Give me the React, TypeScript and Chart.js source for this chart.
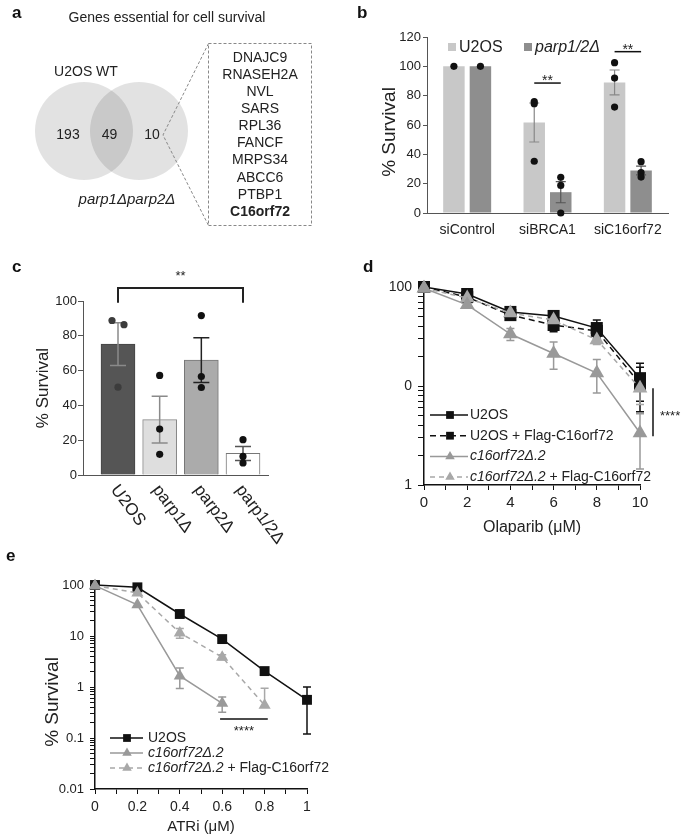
import React, { useEffect, useRef } from "react";
import { Chart, registerables } from "chart.js";

Chart.register(...registerables);

const FONT = "'Liberation Sans', Arial, Helvetica, sans-serif";
const TEXT = "#222";
Chart.defaults.font.family = FONT;
Chart.defaults.color = TEXT;

// ---------- Panel a : Venn ----------
const vennTitle = "Genes essential for cell survival";
const vennSets = ["U2OS WT", "parp1Δparp2Δ"];
const vennCounts = [193, 49, 10];
const vennGenes = ["DNAJC9", "RNASEH2A", "NVL", "SARS", "RPL36", "FANCF", "MRPS34", "ABCC6", "PTBP1", "C16orf72"];

// ---------- Panel b ----------
const bCategories = ["siControl", "siBRCA1", "siC16orf72"];
const bSeriesNames = ["U2OS", "parp1/2Δ"];
const bU2OS = [100, 61.7, 89];
const bU2OSErr = [0, 13.3, 8.5];
const bParp = [100, 14.2, 29];
const bParpErr = [0, 7.2, 3];
const bU2OSDots = [[100], [76, 74.5, 35.3], [102.5, 92, 72.2]];
const bParpDots = [[100], [24.3, 18.8, 0], [35, 27.5, 24.5]];
const bSignifLevel = [null, 88.6, 110];
const bSignifText = ["", "**", "**"];

// ---------- Panel c ----------
const cCategories = ["U2OS", "parp1Δ", "parp2Δ", "parp1/2Δ"];
const cMeans = [75.2, 31.8, 66, 12.4];
const cErr = [12.3, 13.4, 12.9, 4];
const cDots = [[88.8, 86.4, 50.5], [57.2, 26.4, 11.9], [91.6, 56.6, 50.3], [20.3, 10.7, 6.9]];
const cSignifPair = [0, 3];
const cSignifLevel = 107.5;
const cSignifText = "**";

// ---------- Panel d ----------
const dDoses = [0, 2, 4, 6, 8, 10];
const dSeriesNames = ["U2OS", "U2OS + Flag-C16orf72", "c16orf72Δ.2", "c16orf72Δ.2 + Flag-C16orf72"];
const dU2OS = [100, 85, 56, 51, 38.5, 12];
const dU2OSErr = [0, 3, 3, 3, 8, 5];
const dU2OSFlag = [100, 79, 52, 41.3, 36, 10.5];
const dU2OSFlagErr = [0, 3, 3, 6, 4, 5];
const dC16 = [97, 66, 33.5, 21.3, 13.5, 3.35];
const dC16Err = [0, 3, 4.7, 6.5, 5, 1.9];
const dC16Flag = [97, 77.5, 54.5, 46.4, 29.2, 9.5];
const dC16FlagErr = [0, 3, 3, 3, 3, 3];
const dYTicks = [1, 10, 100];
const dYTickLabels = ["1", "0", "100"];
const dSignifRange = [9.5, 3.1];
const dSignifText = "****";

// ---------- Panel e ----------
const eDoses = [0, 0.2, 0.4, 0.6, 0.8, 1];
const eSeriesNames = ["U2OS", "c16orf72Δ.2", "c16orf72Δ.2 + Flag-C16orf72"];
const eU2OS = [100, 90, 27, 8.7, 2.05, 0.56];
const eU2OSErr = [0, 0, 0, 0, 0, 0.44];
const eC16 = [97, 41, 1.65, 0.48];
const eC16Err = [0, 0, 0.72, 0.16];
const eC16Flag = [97, 70, 11.5, 3.85, 0.44];
const eC16FlagErr = [0, 0, 2.5, 0.42, 0.5];
const eYTicks = [0.01, 0.1, 1, 10, 100];
const eYTickLabels = ["0.01", "0.1", "1", "10", "100"];
const eSignifRange = [0.59, 0.815];
const eSignifLevel = 0.235;
const eSignifText = "****";

// ---------- helpers ----------
function logTicks(lo: number, hi: number) {
  const out: number[] = [];
  for (let e = lo; e < hi; e++) for (let m = 1; m < 10; m++) out.push(Number((m * Math.pow(10, e)).toPrecision(3)));
  out.push(Math.pow(10, hi));
  return out;
}
function labelFor(ticks: number[], labels: string[], v: number) {
  const i = ticks.findIndex((t) => Math.abs(t - v) < t * 1e-6);
  return i >= 0 ? labels[i] : "";
}
function drawMarker(ctx: any, style: string, x: number, y: number, r: number, color: string) {
  ctx.save();
  ctx.fillStyle = color;
  ctx.setLineDash([]);
  ctx.beginPath();
  if (style === "rect") {
    const s = r * Math.SQRT1_2;
    ctx.rect(x - s, y - s, 2 * s, 2 * s);
  } else {
    for (let k = 0; k < 3; k++) {
      const a = -Math.PI / 2 + (k * 2 * Math.PI) / 3;
      const px = x + Math.cos(a) * r;
      const py = y + Math.sin(a) * r;
      if (k === 0) ctx.moveTo(px, py);
      else ctx.lineTo(px, py);
    }
    ctx.closePath();
  }
  ctx.fill();
  ctx.restore();
}
function drawSeriesLabel(ctx: any, label: string, x: number, y: number, size: number) {
  const parts = label.split(" + ");
  let cx = x;
  parts.forEach((p, i) => {
    const italic = p.startsWith("c16orf72");
    if (i > 0) {
      ctx.font = `${size}px ${FONT}`;
      ctx.fillText(" + ", cx, y);
      cx += ctx.measureText(" + ").width;
    }
    ctx.font = `${italic ? "italic " : ""}${size}px ${FONT}`;
    ctx.fillText(p, cx, y);
    cx += ctx.measureText(p).width;
  });
}
function yTitlePlugin(text: string, x: number, y: number, size: number) {
  return {
    id: "yTitle",
    afterDraw(chart: any) {
      const { ctx } = chart;
      ctx.save();
      ctx.translate(x, y);
      ctx.rotate(-Math.PI / 2);
      ctx.fillStyle = TEXT;
      ctx.font = `${size}px ${FONT}`;
      ctx.textAlign = "center";
      ctx.textBaseline = "middle";
      ctx.fillText(text, 0, 0);
      ctx.restore();
    },
  };
}
function lineErrPlugin(errs: number[][], cap: number) {
  return {
    id: "lineErr",
    beforeDatasetsDraw(chart: any) {
      const { ctx } = chart;
      const ys = chart.scales.y;
      ctx.save();
      chart.data.datasets.forEach((ds: any, di: number) => {
        const meta = chart.getDatasetMeta(di);
        ctx.strokeStyle = ds.borderColor;
        ctx.lineWidth = 1.5;
        ctx.setLineDash([]);
        meta.data.forEach((pt: any, j: number) => {
          const e = errs[di][j];
          if (!e) return;
          const v = ds.data[j].y;
          const yTop = ys.getPixelForValue(v + e);
          const yBot = v - e > 0 ? ys.getPixelForValue(v - e) : null;
          ctx.beginPath();
          ctx.moveTo(pt.x, yTop);
          ctx.lineTo(pt.x, yBot === null ? pt.y : yBot);
          ctx.moveTo(pt.x - cap, yTop);
          ctx.lineTo(pt.x + cap, yTop);
          if (yBot !== null) {
            ctx.moveTo(pt.x - cap, yBot);
            ctx.lineTo(pt.x + cap, yBot);
          }
          ctx.stroke();
        });
      });
      ctx.restore();
    },
  };
}
function lineLegendPlugin(names: string[], rowOffsets: number[], lineFrom: number, lineTo: number, markX: number, textX: number, markR: number, size: number) {
  return {
    id: "lineLegend",
    afterDraw(chart: any) {
      const { ctx, chartArea: ca } = chart;
      ctx.save();
      names.forEach((name, i) => {
        const ds = chart.data.datasets[i];
        const y = ca.bottom - rowOffsets[i];
        ctx.strokeStyle = ds.borderColor;
        ctx.lineWidth = 1.5;
        ctx.setLineDash(ds.borderDash || []);
        ctx.beginPath();
        ctx.moveTo(ca.left + lineFrom, y);
        ctx.lineTo(ca.left + lineTo, y);
        ctx.stroke();
        drawMarker(ctx, ds.pointStyle, ca.left + markX, y, markR, ds.backgroundColor);
        ctx.fillStyle = TEXT;
        ctx.textAlign = "left";
        ctx.textBaseline = "middle";
        drawSeriesLabel(ctx, name, ca.left + textX, y, size);
      });
      ctx.restore();
    },
  };
}

// ---------- configs ----------
const VENN_R = 49;
function makeVenn() {
  return {
    type: "bubble",
    data: {
      datasets: [
        {
          data: vennSets.map((_, i) => ({ x: i, y: 0, r: VENN_R })),
          backgroundColor: "rgba(0,0,0,0.115)",
          borderWidth: 0,
          hoverRadius: 0,
        },
      ],
    },
    options: {
      responsive: false,
      animation: false,
      events: [],
      layout: { padding: 0, autoPadding: false },
      plugins: { legend: { display: false }, tooltip: { enabled: false } },
      scales: {
        x: { display: false, min: -1.527, max: 4.655 },
        y: { display: false, min: -1.09, max: 1.31 },
      },
    },
    plugins: [
      {
        id: "vennText",
        afterDraw(chart: any) {
          const { ctx } = chart;
          const xs = chart.scales.x;
          const ys = chart.scales.y;
          const cx0 = xs.getPixelForValue(0);
          const cx1 = xs.getPixelForValue(1);
          const cy = ys.getPixelForValue(0);
          ctx.save();
          ctx.fillStyle = TEXT;
          ctx.textAlign = "center";
          ctx.textBaseline = "middle";
          ctx.font = `14px ${FONT}`;
          ctx.fillText(vennTitle, 167, 18);
          ctx.fillText(vennSets[0], cx0 + 2, cy - 59);
          ctx.font = `italic 15px ${FONT}`;
          ctx.fillText(vennSets[1], cx1 - 12, cy + 69);
          ctx.font = `14px ${FONT}`;
          ctx.fillText(String(vennCounts[0]), cx0 - 16, cy + 4);
          ctx.fillText(String(vennCounts[1]), (cx0 + cx1) / 2 - 2, cy + 4);
          ctx.fillText(String(vennCounts[2]), cx1 + 13, cy + 4);
          ctx.strokeStyle = "#888";
          ctx.lineWidth = 1;
          ctx.setLineDash([3, 2]);
          ctx.strokeRect(208.5, 43.5, 103, 182);
          ctx.beginPath();
          ctx.moveTo(208.5, 43.5);
          ctx.lineTo(cx1 + 24, cy + 4);
          ctx.lineTo(208.5, 225.5);
          ctx.stroke();
          ctx.setLineDash([]);
          vennGenes.forEach((g, i) => {
            ctx.font = `${i === vennGenes.length - 1 ? "bold " : ""}14px ${FONT}`;
            ctx.fillText(g, 260, 58 + i * 17.1);
          });
          ctx.restore();
        },
      },
    ],
  };
}

function makeB() {
  const dotSets = [bU2OSDots, bParpDots];
  const errSets = [bU2OSErr, bParpErr];
  const errColors = ["#888", "#555"];
  return {
    type: "bar",
    data: {
      labels: bCategories,
      datasets: [
        { label: bSeriesNames[0], data: bU2OS, backgroundColor: "#c8c8c8", categoryPercentage: 0.66, barPercentage: 0.81 },
        { label: bSeriesNames[1], data: bParp, backgroundColor: "#8e8e8e", categoryPercentage: 0.66, barPercentage: 0.81 },
      ],
    },
    options: {
      responsive: false,
      animation: false,
      events: [],
      layout: { padding: { left: 0, right: 17, top: 37, bottom: 0 } },
      plugins: { legend: { display: false }, tooltip: { enabled: false } },
      scales: {
        x: {
          grid: { display: false, drawTicks: false },
          border: { display: true, color: "#555", width: 1 },
          ticks: { font: { size: 14 }, color: TEXT, padding: 9, maxRotation: 0, autoSkip: false },
          afterFit: (s: any) => { s.height = 27; },
        },
        y: {
          min: 0,
          max: 120,
          ticks: { stepSize: 20, font: { size: 13 }, color: TEXT, padding: 2 },
          grid: { display: true, drawOnChartArea: false, drawTicks: true, tickLength: 4, color: "#555" },
          border: { display: true, color: "#555", width: 1 },
          afterFit: (s: any) => { s.width = 87; },
        },
      },
    },
    plugins: [
      yTitlePlugin("% Survival", 50, 132, 19),
      {
        id: "bExtras",
        afterDatasetsDraw(chart: any) {
          const { ctx, chartArea: ca } = chart;
          const ys = chart.scales.y;
          ctx.save();
          [0, 1].forEach((di) => {
            const meta = chart.getDatasetMeta(di);
            meta.data.forEach((el: any, j: number) => {
              const mean = chart.data.datasets[di].data[j];
              const e = errSets[di][j];
              if (e > 0) {
                const t = ys.getPixelForValue(mean + e);
                const b = ys.getPixelForValue(mean - e);
                ctx.strokeStyle = errColors[di];
                ctx.lineWidth = 1.2;
                ctx.beginPath();
                ctx.moveTo(el.x, t); ctx.lineTo(el.x, b);
                ctx.moveTo(el.x - 5, t); ctx.lineTo(el.x + 5, t);
                ctx.moveTo(el.x - 5, b); ctx.lineTo(el.x + 5, b);
                ctx.stroke();
              }
              ctx.fillStyle = "#111";
              dotSets[di][j].forEach((v) => {
                ctx.beginPath();
                ctx.arc(el.x, ys.getPixelForValue(v), 3.6, 0, Math.PI * 2);
                ctx.fill();
              });
            });
          });
          // significance
          const m0 = chart.getDatasetMeta(0);
          const m1 = chart.getDatasetMeta(1);
          bSignifLevel.forEach((lvl, j) => {
            if (lvl === null) return;
            const x1 = m0.data[j].x;
            const x2 = m1.data[j].x;
            const y = ys.getPixelForValue(lvl);
            ctx.strokeStyle = "#111";
            ctx.lineWidth = 1.5;
            ctx.beginPath();
            ctx.moveTo(x1, y); ctx.lineTo(x2, y);
            ctx.stroke();
            ctx.fillStyle = TEXT;
            ctx.font = `14px ${FONT}`;
            ctx.textAlign = "center";
            ctx.textBaseline = "middle";
            ctx.fillText(bSignifText[j], (x1 + x2) / 2, y - 2);
          });
          // legend
          const ly = ca.top + 10;
          const items = [
            { x: ca.left + 21, color: chart.data.datasets[0].backgroundColor, label: bSeriesNames[0], italic: false },
            { x: ca.left + 97, color: chart.data.datasets[1].backgroundColor, label: bSeriesNames[1], italic: true },
          ];
          items.forEach((it) => {
            ctx.fillStyle = it.color;
            ctx.fillRect(it.x, ly - 4, 8, 8);
            ctx.fillStyle = TEXT;
            ctx.font = `${it.italic ? "italic " : ""}16px ${FONT}`;
            ctx.textAlign = "left";
            ctx.textBaseline = "middle";
            ctx.fillText(it.label, it.x + 11, ly + 1);
          });
          ctx.restore();
        },
      },
    ],
  };
}

function makeC() {
  const fills = ["#555555", "#dedede", "#ababab", "#ffffff"];
  const borders = ["#444", "#888", "#777", "#777"];
  const errColors = ["#8a8a8a", "#8a8a8a", "#222", "#555"];
  const dotColors = ["#3c3c3c", "#111", "#111", "#111"];
  const jitter = [[-6, 6, 0], [0, 0, 0], [0, 0, 0], [0, 0, 0]];
  return {
    type: "bar",
    data: {
      datasets: [
        {
          data: cMeans.map((v, i) => ({ x: i, y: v })),
          backgroundColor: fills,
          borderColor: borders,
          borderWidth: 1,
          barThickness: 34,
        },
      ],
    },
    options: {
      responsive: false,
      animation: false,
      events: [],
      layout: { padding: { left: 0, right: 72, top: 61, bottom: 0 } },
      plugins: { legend: { display: false }, tooltip: { enabled: false } },
      scales: {
        x: {
          type: "linear",
          min: -0.84,
          max: 3.6,
          offset: false,
          grid: { display: false, drawTicks: false, offset: false },
          ticks: { display: false },
          border: { display: true, color: "#555", width: 1 },
          afterFit: (s: any) => { s.height = 95; },
        },
        y: {
          min: 0,
          max: 100,
          ticks: { stepSize: 20, font: { size: 13 }, color: TEXT, padding: 1 },
          grid: { display: true, drawOnChartArea: false, drawTicks: true, tickLength: 5, color: "#555" },
          border: { display: true, color: "#555", width: 1 },
          title: { display: true, text: "% Survival", font: { size: 17 }, color: TEXT, padding: { top: 33, bottom: 0 } },
          afterFit: (s: any) => { s.width = 83; },
        },
      },
    },
    plugins: [
      {
        id: "cExtras",
        afterDatasetsDraw(chart: any) {
          const { ctx, chartArea: ca } = chart;
          const ys = chart.scales.y;
          const xs = chart.scales.x;
          const meta = chart.getDatasetMeta(0);
          ctx.save();
          meta.data.forEach((el: any, j: number) => {
            const mean = cMeans[j];
            const t = ys.getPixelForValue(mean + cErr[j]);
            const b = ys.getPixelForValue(mean - cErr[j]);
            ctx.strokeStyle = errColors[j];
            ctx.lineWidth = 1.5;
            ctx.beginPath();
            ctx.moveTo(el.x, t); ctx.lineTo(el.x, b);
            ctx.moveTo(el.x - 8, t); ctx.lineTo(el.x + 8, t);
            ctx.moveTo(el.x - 8, b); ctx.lineTo(el.x + 8, b);
            ctx.stroke();
            ctx.fillStyle = dotColors[j];
            cDots[j].forEach((v, k) => {
              ctx.beginPath();
              ctx.arc(el.x + jitter[j][k], ys.getPixelForValue(v), 3.6, 0, Math.PI * 2);
              ctx.fill();
            });
          });
          // significance bracket
          const x1 = xs.getPixelForValue(cSignifPair[0]);
          const x2 = xs.getPixelForValue(cSignifPair[1]);
          const y = ys.getPixelForValue(cSignifLevel);
          const legY = ys.getPixelForValue(99);
          ctx.strokeStyle = "#222";
          ctx.lineWidth = 2;
          ctx.beginPath();
          ctx.moveTo(x1, legY); ctx.lineTo(x1, y); ctx.lineTo(x2, y); ctx.lineTo(x2, legY);
          ctx.stroke();
          ctx.fillStyle = TEXT;
          ctx.font = `13px ${FONT}`;
          ctx.textAlign = "center";
          ctx.textBaseline = "middle";
          ctx.fillText(cSignifText, (x1 + x2) / 2, y - 12);
          // rotated category labels
          ctx.font = `17px ${FONT}`;
          ctx.textAlign = "left";
          ctx.textBaseline = "middle";
          cCategories.forEach((lab, i) => {
            const x = xs.getPixelForValue(i);
            ctx.save();
            ctx.translate(x - 4, ca.bottom + 12);
            ctx.rotate((53 * Math.PI) / 180);
            ctx.fillText(lab, 0, 0);
            ctx.restore();
          });
          ctx.restore();
        },
      },
    ],
  };
}

function makeD() {
  const allTicks = logTicks(0, 2);
  return {
    type: "line",
    data: {
      datasets: [
        { label: dSeriesNames[0], data: dDoses.map((x, i) => ({ x, y: dU2OS[i] })), borderColor: "#111", backgroundColor: "#111", borderWidth: 1.5, pointStyle: "rect", pointRadius: 8.5, pointBorderWidth: 0, clip: false, order: 2 },
        { label: dSeriesNames[1], data: dDoses.map((x, i) => ({ x, y: dU2OSFlag[i] })), borderColor: "#111", backgroundColor: "#111", borderWidth: 1.5, borderDash: [6, 4], pointStyle: "rect", pointRadius: 8.5, pointBorderWidth: 0, clip: false, order: 3 },
        { label: dSeriesNames[2], data: dDoses.map((x, i) => ({ x, y: dC16[i] })), borderColor: "#999", backgroundColor: "#999", borderWidth: 1.5, pointStyle: "triangle", pointRadius: 8.5, pointBorderWidth: 0, clip: false, order: 0 },
        { label: dSeriesNames[3], data: dDoses.map((x, i) => ({ x, y: dC16Flag[i] })), borderColor: "#a8a8a8", backgroundColor: "#a8a8a8", borderWidth: 1.5, borderDash: [5, 4], pointStyle: "triangle", pointRadius: 8.5, pointBorderWidth: 0, clip: false, order: 1 },
      ],
    },
    options: {
      responsive: false,
      animation: false,
      events: [],
      layout: { padding: { left: 0, right: 45, top: 47, bottom: 0 } },
      plugins: { legend: { display: false }, tooltip: { enabled: false } },
      scales: {
        x: {
          type: "linear",
          min: 0,
          max: 10,
          ticks: { stepSize: 1, autoSkip: false, maxRotation: 0, font: { size: 15 }, color: TEXT, padding: 4, callback: (v: number) => (Math.round(v) % 2 === 0 ? String(Math.round(v)) : "") },
          grid: { display: true, drawOnChartArea: false, drawTicks: true, tickLength: 5, color: "#111" },
          border: { display: true, color: "#111", width: 1.5 },
          title: { display: true, text: "Olaparib (μM)", font: { size: 16 }, color: TEXT, padding: { top: 0, bottom: 33 } },
          afterFit: (s: any) => { s.height = 85; },
        },
        y: {
          type: "logarithmic",
          min: 1,
          max: 100,
          afterBuildTicks: (s: any) => { s.ticks = allTicks.map((v) => ({ value: v })); },
          ticks: { autoSkip: false, font: { size: 14 }, color: TEXT, padding: 6, callback: (v: number) => labelFor(dYTicks, dYTickLabels, v) },
          grid: { display: true, drawOnChartArea: false, drawTicks: true, tickLength: 6, color: "#111" },
          border: { display: true, color: "#111", width: 1.5 },
          afterFit: (s: any) => { s.width = 84; },
        },
      },
    },
    plugins: [
      lineErrPlugin([dU2OSErr, dU2OSFlagErr, dC16Err, dC16FlagErr], 4),
      lineLegendPlugin(dSeriesNames, [70, 49.3, 28.6, 8], 6, 44, 26, 46, 5.5, 14),
      {
        id: "dSig",
        afterDraw(chart: any) {
          const { ctx } = chart;
          const xs = chart.scales.x;
          const ys = chart.scales.y;
          const x = xs.getPixelForValue(dDoses[dDoses.length - 1]) + 13;
          const y1 = ys.getPixelForValue(dSignifRange[0]);
          const y2 = ys.getPixelForValue(dSignifRange[1]);
          ctx.save();
          ctx.strokeStyle = "#111";
          ctx.lineWidth = 1.5;
          ctx.beginPath();
          ctx.moveTo(x, y1); ctx.lineTo(x, y2);
          ctx.stroke();
          ctx.fillStyle = TEXT;
          ctx.font = `13px ${FONT}`;
          ctx.textAlign = "left";
          ctx.textBaseline = "middle";
          ctx.fillText(dSignifText, x + 7, (y1 + y2) / 2 + 4);
          ctx.restore();
        },
      },
    ],
  };
}

function makeE() {
  const allTicks = logTicks(-2, 2);
  return {
    type: "line",
    data: {
      datasets: [
        { label: eSeriesNames[0], data: eDoses.map((x, i) => ({ x, y: eU2OS[i] })), borderColor: "#111", backgroundColor: "#111", borderWidth: 1.5, pointStyle: "rect", pointRadius: 7, pointBorderWidth: 0, clip: false, order: 2 },
        { label: eSeriesNames[1], data: eC16.map((y, i) => ({ x: eDoses[i], y })), borderColor: "#999", backgroundColor: "#999", borderWidth: 1.5, pointStyle: "triangle", pointRadius: 7, pointBorderWidth: 0, clip: false, order: 0 },
        { label: eSeriesNames[2], data: eC16Flag.map((y, i) => ({ x: eDoses[i], y })), borderColor: "#a8a8a8", backgroundColor: "#a8a8a8", borderWidth: 1.5, borderDash: [5, 4], pointStyle: "triangle", pointRadius: 7, pointBorderWidth: 0, clip: false, order: 1 },
      ],
    },
    options: {
      responsive: false,
      animation: false,
      events: [],
      layout: { padding: { left: 0, right: 33, top: 25, bottom: 0 } },
      plugins: { legend: { display: false }, tooltip: { enabled: false } },
      scales: {
        x: {
          type: "linear",
          min: 0,
          max: 1,
          ticks: {
            stepSize: 0.1,
            autoSkip: false,
            maxRotation: 0,
            font: { size: 14 },
            color: TEXT,
            padding: 5,
            callback: (v: number) => {
              const r = Math.round(v * 10);
              return r % 2 === 0 ? String(r / 10) : "";
            },
          },
          grid: { display: true, drawOnChartArea: false, drawTicks: true, tickLength: 5, color: "#111" },
          border: { display: true, color: "#111", width: 1.5 },
          title: { display: true, text: "ATRi (μM)", font: { size: 15 }, color: TEXT, padding: { top: 0, bottom: 0 } },
          afterFit: (s: any) => { s.height = 47; },
        },
        y: {
          type: "logarithmic",
          min: 0.01,
          max: 100,
          afterBuildTicks: (s: any) => { s.ticks = allTicks.map((v) => ({ value: v })); },
          ticks: { autoSkip: false, font: { size: 13 }, color: TEXT, padding: 6, callback: (v: number) => labelFor(eYTicks, eYTickLabels, v) },
          grid: { display: true, drawOnChartArea: false, drawTicks: true, tickLength: 5, color: "#111" },
          border: { display: true, color: "#111", width: 1.5 },
          afterFit: (s: any) => { s.width = 95; },
        },
      },
    },
    plugins: [
      yTitlePlugin("% Survival", 53, 142, 19),
      lineErrPlugin([eU2OSErr, eC16Err, eC16FlagErr], 4),
      lineLegendPlugin(eSeriesNames, [51, 36, 21], 15, 48, 32, 53, 5.5, 14),
      {
        id: "eSig",
        afterDraw(chart: any) {
          const { ctx } = chart;
          const xs = chart.scales.x;
          const ys = chart.scales.y;
          const x1 = xs.getPixelForValue(eSignifRange[0]);
          const x2 = xs.getPixelForValue(eSignifRange[1]);
          const y = ys.getPixelForValue(eSignifLevel);
          ctx.save();
          ctx.strokeStyle = "#111";
          ctx.lineWidth = 1.5;
          ctx.beginPath();
          ctx.moveTo(x1, y); ctx.lineTo(x2, y);
          ctx.stroke();
          ctx.fillStyle = TEXT;
          ctx.font = `13px ${FONT}`;
          ctx.textAlign = "center";
          ctx.textBaseline = "middle";
          ctx.fillText(eSignifText, (x1 + x2) / 2, y + 12);
          ctx.restore();
        },
      },
    ],
  };
}

function ChartBox({ left, top, width, height, make }: { left: number; top: number; width: number; height: number; make: () => any }) {
  const ref = useRef<HTMLCanvasElement>(null);
  useEffect(() => {
    const chart = new Chart(ref.current as HTMLCanvasElement, make());
    return () => chart.destroy();
  }, []);
  return <canvas ref={ref} width={width} height={height} style={{ position: "absolute", left, top, width, height }} />;
}

const letterStyle = (left: number, baseline: number): React.CSSProperties => ({
  position: "absolute",
  left,
  top: baseline - 14.4,
  font: `bold 17px ${FONT}`,
  lineHeight: 1,
  color: "#111",
});

export default function App() {
  return (
    <div style={{ position: "absolute", left: 0, top: 0, width: 685, height: 836, background: "#fff", overflow: "hidden" }}>
      <ChartBox left={0} top={0} width={340} height={240} make={makeVenn} />
      <ChartBox left={340} top={0} width={345} height={240} make={makeB} />
      <ChartBox left={0} top={240} width={340} height={330} make={makeC} />
      <ChartBox left={340} top={240} width={345} height={330} make={makeD} />
      <ChartBox left={0} top={560} width={340} height={276} make={makeE} />
      <div style={letterStyle(12, 18)}>a</div>
      <div style={letterStyle(357, 18)}>b</div>
      <div style={letterStyle(12, 272)}>c</div>
      <div style={letterStyle(363, 272)}>d</div>
      <div style={letterStyle(6, 561)}>e</div>
    </div>
  );
}
